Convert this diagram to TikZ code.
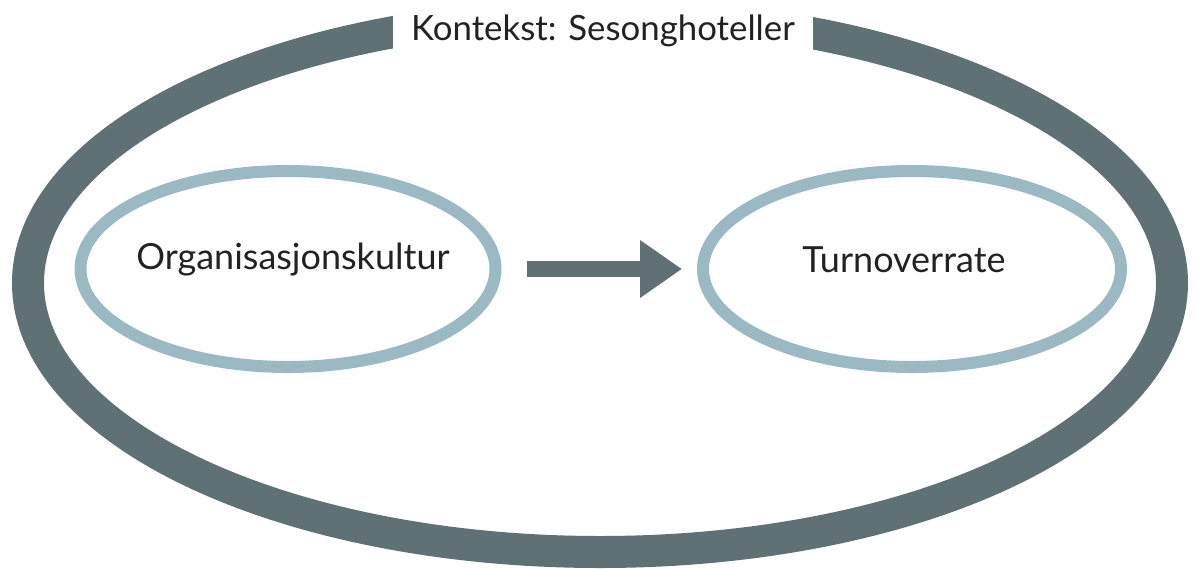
\documentclass[tikz,border=0pt]{standalone}
\usepackage{fontspec}
\setmainfont{Lato}
\usetikzlibrary{shapes.geometric, arrows.meta, positioning}
\definecolor{ctxgray}{RGB}{96,113,118}
\definecolor{inblue}{RGB}{155,185,194}
\definecolor{txtdark}{RGB}{34,34,34}

\begin{document}
\begin{tikzpicture}[x=0.5pt, y=-0.5pt,
    ctx/.style={draw=ctxgray, line width=16pt, ellipse, inner sep=0pt,
        minimum width=572pt, minimum height=269pt},
    inner/.style={draw=inblue, line width=6pt, ellipse, inner sep=0pt,
        minimum height=98pt},
    lbl/.style={text=txtdark, font=\fontsize{18}{22}\selectfont},
    ttl/.style={fill=white, text=txtdark, font=\fontsize{17.4}{21}\selectfont,
        minimum width=210pt, minimum height=36pt, inner sep=0pt,
        text height=11pt, text depth=3.5pt}
    ]
        \useasboundingbox (0,0) rectangle (1198,568);

        % Context ellipse with its title cut into the top
        \node[ctx] (ctxring) at (600,283) {};
        \node[ttl] (title) at (603,33) {Kontekst: Sesonghoteller};

        % Inner ellipses
        \node[inner, minimum width=207.5pt,
            label={[lbl, yshift=4.5pt, xshift=2.5pt]center:Organisasjonskultur}] (org) at (288,269) {};
        \node[inner, minimum width=209pt,
            label={[lbl, yshift=4.5pt, xshift=-4pt]center:Turnoverrate}] (turn) at (912,269) {};

        % Block arrow between them
        \draw[ctxgray, line width=8pt, -{Triangle[length=21pt, width=27.5pt]},
            shorten <=12.5pt, shorten >=7.5pt] (org) -- (turn);
    \end{tikzpicture}
\end{document}
